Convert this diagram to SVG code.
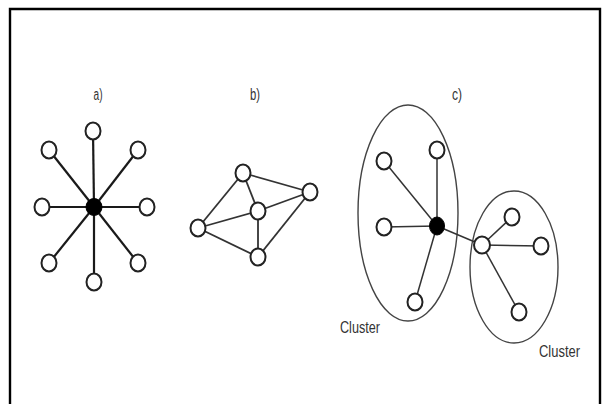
<svg xmlns="http://www.w3.org/2000/svg" width="602" height="404" viewBox="0 0 602 404">
<style>
.n{fill:#fff;stroke:#222;stroke-width:2}
.hub{fill:#000;stroke:#000;stroke-width:1}
.ea{stroke:#1a1a1a;stroke-width:2.2;fill:none}
.eb{stroke:#333;stroke-width:1.8;fill:none}
.ec{stroke:#333;stroke-width:1.5;fill:none}
.cl{fill:none;stroke:#444;stroke-width:1.4}
.t{font-family:"Liberation Sans",Arial,sans-serif;font-size:16px;fill:#333}
</style>
<rect width="602" height="404" fill="#fff"/>
<path d="M10,404 V9 H600 V404" fill="none" stroke="#000" stroke-width="2.4"/>
<g id="labels">
<text class="t" x="98" y="100" text-anchor="middle" textLength="9" lengthAdjust="spacingAndGlyphs">a)</text>
<text class="t" x="255" y="100" text-anchor="middle" textLength="10" lengthAdjust="spacingAndGlyphs">b)</text>
<text class="t" x="457" y="100" text-anchor="middle" textLength="10" lengthAdjust="spacingAndGlyphs">c)</text>
<text class="t" x="340" y="333" textLength="40" lengthAdjust="spacingAndGlyphs">Cluster</text>
<text class="t" x="539" y="357" textLength="41" lengthAdjust="spacingAndGlyphs">Cluster</text>
</g>
<g id="clusters">
<ellipse id="cluster1" class="cl" cx="408" cy="213" rx="50" ry="108"/>
<ellipse id="cluster2" class="cl" cx="514" cy="267" rx="44" ry="76"/>
</g>
<g id="connectors">
<g class="ea">
<line x1="94" y1="207" x2="93" y2="131"/>
<line x1="94" y1="207" x2="94" y2="282"/>
<line x1="94" y1="207" x2="42" y2="207"/>
<line x1="94" y1="207" x2="147" y2="207"/>
<line x1="94" y1="207" x2="49" y2="150"/>
<line x1="94" y1="207" x2="138" y2="150"/>
<line x1="94" y1="207" x2="49" y2="263"/>
<line x1="94" y1="207" x2="138" y2="263"/>
</g>
<g class="eb">
<line x1="243" y1="173" x2="310" y2="192"/>
<line x1="243" y1="173" x2="258" y2="211"/>
<line x1="243" y1="173" x2="198" y2="228"/>
<line x1="258" y1="211" x2="310" y2="192"/>
<line x1="258" y1="211" x2="198" y2="228"/>
<line x1="258" y1="211" x2="258" y2="257"/>
<line x1="198" y1="228" x2="258" y2="257"/>
<line x1="258" y1="257" x2="310" y2="192"/>
</g>
<g class="ec">
<line x1="437" y1="226" x2="384" y2="161"/>
<line x1="437" y1="226" x2="437" y2="150"/>
<line x1="437" y1="226" x2="384" y2="227"/>
<line x1="437" y1="226" x2="415" y2="302"/>
<line x1="437" y1="226" x2="482" y2="245"/>
<line x1="482" y1="245" x2="512" y2="217"/>
<line x1="482" y1="245" x2="541" y2="246"/>
<line x1="482" y1="245" x2="519" y2="312"/>
</g>
</g>
<g id="a-center"><ellipse class="hub" cx="94" cy="207" rx="8" ry="8.5"/></g>
<g id="a-n"><ellipse class="n" cx="93" cy="131" rx="7.5" ry="8.5"/></g>
<g id="a-s"><ellipse class="n" cx="94" cy="282" rx="7.5" ry="8.5"/></g>
<g id="a-w"><ellipse class="n" cx="42" cy="207" rx="7.5" ry="8.5"/></g>
<g id="a-e"><ellipse class="n" cx="147" cy="207" rx="7.5" ry="8.5"/></g>
<g id="a-nw"><ellipse class="n" cx="49" cy="150" rx="7.5" ry="8.5"/></g>
<g id="a-ne"><ellipse class="n" cx="138" cy="150" rx="7.5" ry="8.5"/></g>
<g id="a-sw"><ellipse class="n" cx="49" cy="263" rx="7.5" ry="8.5"/></g>
<g id="a-se"><ellipse class="n" cx="138" cy="263" rx="7.5" ry="8.5"/></g>
<g id="b-top"><ellipse class="n" cx="243" cy="173" rx="7.5" ry="8.5"/></g>
<g id="b-right"><ellipse class="n" cx="310" cy="192" rx="7.5" ry="8.5"/></g>
<g id="b-center"><ellipse class="n" cx="258" cy="211" rx="7.5" ry="8.5"/></g>
<g id="b-left"><ellipse class="n" cx="198" cy="228" rx="7.5" ry="8.5"/></g>
<g id="b-bottom"><ellipse class="n" cx="258" cy="257" rx="7.5" ry="8.5"/></g>
<g id="c-hub"><ellipse class="hub" cx="437" cy="226" rx="7.5" ry="9"/></g>
<g id="c-n1"><ellipse class="n" cx="384" cy="161" rx="7.5" ry="8.5"/></g>
<g id="c-n2"><ellipse class="n" cx="437" cy="150" rx="7.5" ry="8.5"/></g>
<g id="c-n3"><ellipse class="n" cx="384" cy="227" rx="7.5" ry="8.5"/></g>
<g id="c-n4"><ellipse class="n" cx="415" cy="302" rx="7.5" ry="8.5"/></g>
<g id="c-hub2"><ellipse class="n" cx="482" cy="245" rx="8" ry="8.5"/></g>
<g id="c-m1"><ellipse class="n" cx="512" cy="217" rx="7.5" ry="8.5"/></g>
<g id="c-m2"><ellipse class="n" cx="541" cy="246" rx="7.5" ry="8.5"/></g>
<g id="c-m3"><ellipse class="n" cx="519" cy="312" rx="7.5" ry="8.5"/></g>
</svg>
